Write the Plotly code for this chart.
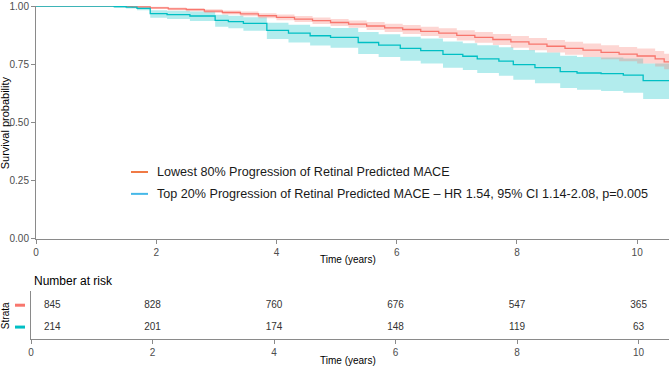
import plotly.graph_objects as go

# ---------------- data ----------------
red_name = "Lowest 80% Progression of Retinal Predicted MACE"
cyan_name = "Top 20% Progression of Retinal Predicted MACE \u2013 HR 1.54, 95% CI 1.14-2.08, p=0.005"

red_time = [0, 1.3, 1.6, 1.9, 2.2, 2.5, 2.8, 3.1, 3.4, 3.7, 4.0, 4.3, 4.6, 4.9, 5.2, 5.5, 5.8,
            6.1, 6.4, 6.7, 7.0, 7.3, 7.6, 7.9, 8.2, 8.5, 8.8, 9.1, 9.4, 9.7, 10.0, 10.3, 10.45, 10.53]
red_surv = [1.0, 0.998, 0.996, 0.992, 0.988, 0.984, 0.978, 0.972, 0.966, 0.958, 0.951, 0.944, 0.937,
            0.929, 0.922, 0.914, 0.906, 0.899, 0.891, 0.883, 0.874, 0.865, 0.856, 0.846, 0.836, 0.827,
            0.818, 0.810, 0.801, 0.793, 0.785, 0.773, 0.760, 0.760]
red_lower = [1.0, 0.995, 0.992, 0.987, 0.982, 0.977, 0.970, 0.963, 0.956, 0.947, 0.939, 0.931, 0.923,
             0.914, 0.906, 0.897, 0.888, 0.880, 0.871, 0.862, 0.852, 0.842, 0.832, 0.821, 0.810, 0.800,
             0.790, 0.781, 0.771, 0.762, 0.753, 0.740, 0.728, 0.728]
red_upper = [1.0, 1.0, 0.999, 0.997, 0.994, 0.991, 0.986, 0.981, 0.976, 0.969, 0.963, 0.957, 0.951,
             0.944, 0.938, 0.931, 0.924, 0.918, 0.911, 0.904, 0.896, 0.888, 0.880, 0.871, 0.862, 0.854,
             0.846, 0.839, 0.831, 0.824, 0.817, 0.806, 0.795, 0.795]

cyan_time = [0, 1.3, 1.5, 1.68, 1.9, 2.18, 2.56, 2.98, 3.2, 3.45, 3.84, 4.2, 4.56, 4.9, 5.36, 5.7,
             6.06, 6.4, 6.77, 7.1, 7.34, 7.7, 7.94, 8.3, 8.72, 9.0, 9.4, 9.77, 10.1, 10.53]
cyan_surv = [1.0, 0.997, 0.995, 0.99, 0.967, 0.963, 0.957, 0.938, 0.933, 0.925, 0.895, 0.883, 0.872,
             0.865, 0.843, 0.832, 0.818, 0.808, 0.792, 0.784, 0.773, 0.763, 0.748, 0.735, 0.718, 0.712,
             0.709, 0.703, 0.679, 0.679]
cyan_lower = [1.0, 0.993, 0.989, 0.982, 0.950, 0.944, 0.935, 0.911, 0.904, 0.894, 0.858, 0.843, 0.830,
              0.820, 0.794, 0.781, 0.765, 0.753, 0.735, 0.725, 0.712, 0.700, 0.683, 0.668, 0.648, 0.640,
              0.635, 0.627, 0.600, 0.600]
cyan_upper = [1.0, 1.0, 1.0, 0.998, 0.982, 0.980, 0.976, 0.962, 0.958, 0.952, 0.928, 0.919, 0.911,
              0.905, 0.888, 0.879, 0.868, 0.860, 0.847, 0.840, 0.831, 0.823, 0.811, 0.800, 0.786, 0.781,
              0.779, 0.774, 0.753, 0.753]

risk_times = [0, 2, 4, 6, 8, 10]
risk_red = [845, 828, 760, 676, 547, 365]
risk_cyan = [214, 201, 174, 148, 119, 63]
strata = ["Top 20%", "Lowest 80%"]

y_ticks = [0, 0.25, 0.5, 0.75, 1.0]
x_ticks = [0, 2, 4, 6, 8, 10]

# ---------------- styles ----------------
RED = "#F8766D"
CYAN = "#00BFC4"
RED_FILL = "rgba(248,118,109,0.30)"
CYAN_FILL = "rgba(0,191,196,0.30)"
LEG_RED = "#F07A45"
LEG_CYAN = "#45B8E8"
AXIS = "#8a8a8a"
TICK = "#4d4d4d"
FONT = "Liberation Sans, Arial, sans-serif"

W, H = 669, 368
ML, MR, MT, MB = 31, 0, 4, 29
PW, PH = W - ML - MR, H - MT - MB


def px(xp):
    return (xp - ML) / PW


def py(yp):
    return (H - MB - yp) / PH


fig = go.Figure()

# confidence bands
for t, lo, up, fillc in [(cyan_time, cyan_lower, cyan_upper, CYAN_FILL),
                         (red_time, red_lower, red_upper, RED_FILL)]:
    fig.add_trace(go.Scatter(x=t, y=lo, mode="lines", line=dict(width=0, shape="hv"),
                             showlegend=False, hoverinfo="skip", xaxis="x", yaxis="y"))
    fig.add_trace(go.Scatter(x=t, y=up, mode="lines", line=dict(width=0, shape="hv"),
                             fill="tonexty", fillcolor=fillc, showlegend=False,
                             hoverinfo="skip", xaxis="x", yaxis="y"))

# survival curves
fig.add_trace(go.Scatter(x=red_time, y=red_surv, mode="lines", name=red_name, cliponaxis=False,
                         line=dict(color=RED, width=1.3, shape="hv"), showlegend=False,
                         xaxis="x", yaxis="y"))
fig.add_trace(go.Scatter(x=cyan_time, y=cyan_surv, mode="lines", name=cyan_name, cliponaxis=False,
                         line=dict(color=CYAN, width=1.3, shape="hv"), showlegend=False,
                         xaxis="x", yaxis="y"))

# risk table
fig.add_trace(go.Scatter(x=[t if t > 0 else 0.35 for t in risk_times], y=[strata[1]] * len(risk_times),
                         mode="text", text=[str(v) for v in risk_red],
                         textfont=dict(family=FONT, size=10, color="#333333"),
                         showlegend=False, xaxis="x2", yaxis="y2", hoverinfo="skip"))
fig.add_trace(go.Scatter(x=[t if t > 0 else 0.35 for t in risk_times], y=[strata[0]] * len(risk_times),
                         mode="text", text=[str(v) for v in risk_cyan],
                         textfont=dict(family=FONT, size=10, color="#333333"),
                         showlegend=False, xaxis="x2", yaxis="y2", hoverinfo="skip"))

axis_common = dict(showgrid=False, zeroline=False, showline=True, linecolor=AXIS, linewidth=1,
                   ticks="outside", ticklen=4, tickcolor=AXIS, ticklabeloverflow="allow",
                   tickfont=dict(family=FONT, size=10, color=TICK))

fig.update_layout(
    width=W, height=H,
    margin=dict(l=ML, r=MR, t=MT, b=MB),
    paper_bgcolor="white", plot_bgcolor="white",
    showlegend=False,
    xaxis=dict(domain=[px(36), 1], range=[0, 10.53], tickvals=x_ticks, anchor="y", **axis_common),
    yaxis=dict(domain=[py(238), 1], range=[0, 1.0], tickvals=y_ticks, tickformat=".2f",
               anchor="x", **axis_common),
    xaxis2=dict(domain=[0, 1], range=[0, 10.5], tickvals=x_ticks, anchor="y2", **axis_common),
    yaxis2=dict(domain=[0, py(291)], range=[-0.545, 1.636], type="category",
                categoryorder="array", categoryarray=strata, showticklabels=False,
                showgrid=False, zeroline=False, showline=True, linecolor=AXIS, linewidth=1,
                ticks="", anchor="x2"),
)

# legend drawn manually
for yp, col, txt in [(171, LEG_RED, red_name), (193, LEG_CYAN, cyan_name)]:
    fig.add_shape(type="line", xref="paper", yref="paper", x0=px(131), x1=px(148),
                  y0=py(yp), y1=py(yp), line=dict(color=col, width=2))
    fig.add_annotation(xref="paper", yref="paper", x=px(155), y=py(yp), text=txt,
                       showarrow=False, xanchor="left", yanchor="middle",
                       font=dict(family=FONT, size=12.6, color="#1a1a1a"))

# strata marks
for yp, col in [(305, RED), (327, CYAN)]:
    fig.add_shape(type="line", xref="paper", yref="paper", x0=px(15), x1=px(25),
                  y0=py(yp), y1=py(yp), line=dict(color=col, width=3))

ann = dict(showarrow=False, xref="paper", yref="paper")
fig.add_annotation(x=px(348), y=py(259), text="Time (years)", xanchor="center", yanchor="middle",
                   font=dict(family=FONT, size=10, color="black"), **ann)
fig.add_annotation(x=px(348), y=py(361), text="Time (years)", xanchor="center", yanchor="middle",
                   font=dict(family=FONT, size=10, color="black"), **ann)
fig.add_annotation(x=px(5), y=py(122), text="Survival probability", textangle=-90,
                   xanchor="center", yanchor="middle",
                   font=dict(family=FONT, size=11, color="black"), **ann)
fig.add_annotation(x=px(32), y=py(281), text="Number at risk", xanchor="left", yanchor="middle",
                   font=dict(family=FONT, size=12, color="black"), **ann)
fig.add_annotation(x=px(5), y=py(316), text="Strata", textangle=-90, xanchor="center",
                   yanchor="middle", font=dict(family=FONT, size=10, color="black"), **ann)

fig.write_html("out.html", config={"displayModeBar": False},
               post_script="document.body.style.margin='0';")
